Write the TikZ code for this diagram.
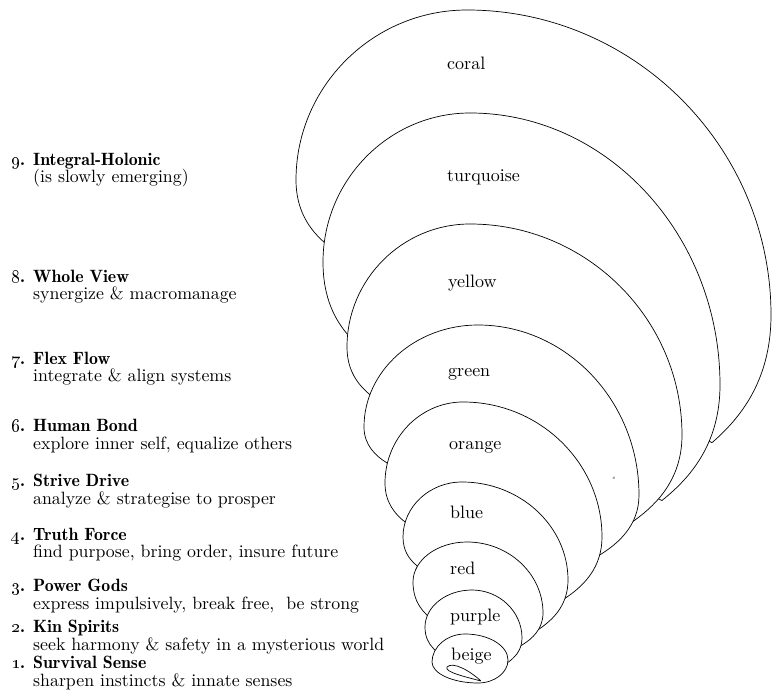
\documentclass[tikz,border=0pt]{standalone}
\usetikzlibrary{calc}
\newcommand\bodyfont{\fontsize{10}{11}\selectfont}
\newcommand\headfont{\fontsize{10}{11}\fontseries{b}\selectfont}
\newcommand\osn[1]{\oldstylenums{#1}}
\newcommand\bigtxt[1]{\scalebox{1.78}{#1}}
\newcommand\lab[1]{\scalebox{1.8}{#1}}
\tikzset{
  shell/.style={draw=black, line width=0.7pt, fill=white, line join=round},
  loopline/.style={draw=black, line width=0.7pt},
  numtxt/.style={anchor=base west, inner sep=0pt, font=\headfont},
  headtxt/.style={anchor=base west, inner sep=0pt, font=\headfont},
  desctxt/.style={anchor=base west, inner sep=0pt, font=\bodyfont},
  lbltxt/.style={anchor=base west, inner sep=0pt, font=\bodyfont},
}
% #1 left junction, #2 leftmost, #3 top, #4 rightmost, #5 right junction
\newcommand\shellarc[5]{%
 \path[shell] let \p1=#1, \p2=#2, \p3=#3, \p4=#4, \p5=#5,
   \p6=({\x1-0.5*(\x1-\x2)},{\y1+0.2*(\y2-\y1)}),
   \p7=({\x5+0.5*(\x4-\x5)},{\y5+0.2*(\y4-\y5)}) in
   ($(\p1)!-4pt!(\p6)$) -- (\p1)
   .. controls (\p6) and (\x2,{\y2-0.5*(\y2-\y1)}) .. (\p2)
   .. controls (\x2,{\y2+0.55*(\y3-\y2)}) and ({\x3-0.55*(\x3-\x2)},\y3) .. (\p3)
   .. controls ({\x3+0.55*(\x4-\x3)},\y3) and (\x4,{\y4+0.55*(\y3-\y4)}) .. (\p4)
   .. controls (\x4,{\y4-0.5*(\y4-\y5)}) and (\p7) .. (\p5)
   -- ($(\p5)!-4pt!(\p7)$) -- cycle;
}
\begin{document}
\begin{tikzpicture}[x=1pt,y=-1pt]
\useasboundingbox (0,0) rectangle (772,692);
% shells, largest first
\shellarc{(325,243)}{(296,180)}{(467,10)}{(771,315)}{(715,440)}   % coral
\shellarc{(348,335)}{(323,262)}{(470,113)}{(720,385)}{(665,498)}  % turquoise
\shellarc{(368,393)}{(347,347)}{(470,224)}{(682,435)}{(635,520)}  % yellow
\shellarc{(387,463)}{(364,427)}{(478,325)}{(639,495)}{(598,556)}  % green
\shellarc{(405,522)}{(385,483)}{(463,402)}{(602,537)}{(567,597)}  % orange
\shellarc{(415,564)}{(403,537)}{(462,482)}{(568,580)}{(542,627)}  % blue
\shellarc{(425,613)}{(413,582)}{(467,542)}{(543,613)}{(522,645)}  % red
\shellarc{(433,648)}{(425,627)}{(472,590)}{(522,638)}{(507,663)}  % purple
% beige
\path[shell] (465,634) .. controls (447,634) and (432,647) .. (432,662)
  .. controls (432,673.5) and (452.7,683) .. (478,683)
  .. controls (494.5,683) and (508,672.7) .. (508,660)
  .. controls (508,645.7) and (488.7,634) .. (465,634) -- cycle;
\path[loopline] (481,681) .. controls (470,671) and (453,661) .. (447,667)
  .. controls (444,672) and (466,677) .. (481,681);
\node[font=\fontsize{5}{5}\selectfont, inner sep=0pt] (smark) at (614,478) {s};
% colour labels
\node[lbltxt] (lcoral) at (447,70) {\lab{coral}};
\node[lbltxt] (lturq) at (447,182) {\lab{turquoise}};
\node[lbltxt] (lyellow) at (448,288) {\lab{yellow}};
\node[lbltxt] (lgreen) at (448,377) {\lab{green}};
\node[lbltxt] (lorange) at (449,450) {\lab{orange}};
\node[lbltxt] (lblue) at (450,519) {\lab{blue}};
\node[lbltxt] (lred) at (450,575) {\lab{red}};
\node[lbltxt] (lpurple) at (450,622) {\lab{purple}};
\node[lbltxt] (lbeige) at (451,660) {\lab{beige}};
% level list
\node[numtxt] (n9) at (11,166) {\bigtxt{\osn{9}.}};
\node[headtxt] (h9) at (33,166) {\bigtxt{Integral-Holonic}};
\node[desctxt] (d9) at (33,183) {\bigtxt{(is slowly emerging)}};
\node[numtxt] (n8) at (11,283) {\bigtxt{\osn{8}.}};
\node[headtxt] (h8) at (33,283) {\bigtxt{Whole View}};
\node[desctxt] (d8) at (33,300) {\bigtxt{synergize \& macromanage}};
\node[numtxt] (n7) at (11,365) {\bigtxt{\osn{7}.}};
\node[headtxt] (h7) at (33,365) {\bigtxt{Flex Flow}};
\node[desctxt] (d7) at (33,382) {\bigtxt{integrate \& align systems}};
\node[numtxt] (n6) at (11,432) {\bigtxt{\osn{6}.}};
\node[headtxt] (h6) at (33,432) {\bigtxt{Human Bond}};
\node[desctxt] (d6) at (33,450) {\bigtxt{explore inner self, equalize others}};
\node[numtxt] (n5) at (11,487) {\bigtxt{\osn{5}.}};
\node[headtxt] (h5) at (33,487) {\bigtxt{Strive Drive}};
\node[desctxt] (d5) at (33,505) {\bigtxt{analyze \& strategise to prosper}};
\node[numtxt] (n4) at (11,541) {\bigtxt{\osn{4}.}};
\node[headtxt] (h4) at (33,541) {\bigtxt{Truth Force}};
\node[desctxt] (d4) at (33,558) {\bigtxt{find purpose, bring order, insure future}};
\node[numtxt] (n3) at (11,592) {\bigtxt{\osn{3}.}};
\node[headtxt] (h3) at (33,592) {\bigtxt{Power Gods}};
\node[desctxt] (d3) at (33,610) {\bigtxt{express impulsively, break free, \ be strong}};
\node[numtxt] (n2) at (11,633) {\bigtxt{\osn{2}.}};
\node[headtxt] (h2) at (33,633) {\bigtxt{Kin Spirits}};
\node[desctxt] (d2) at (33,651) {\bigtxt{seek harmony \& safety in a mysterious world}};
\node[numtxt] (n1) at (11,669) {\bigtxt{\osn{1}.}};
\node[headtxt] (h1) at (33,669) {\bigtxt{Survival Sense}};
\node[desctxt] (d1) at (33,687) {\bigtxt{sharpen instincts \& innate senses}};
\end{tikzpicture}
\end{document}
